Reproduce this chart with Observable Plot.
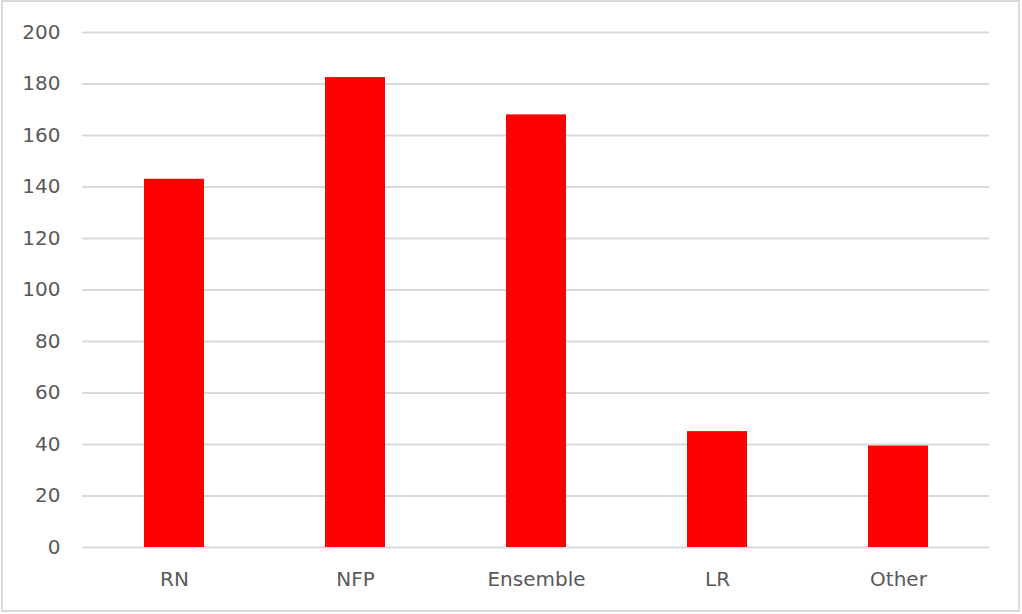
<!DOCTYPE html>
<html>
<head>
<meta charset="utf-8">
<script src="https://cdn.jsdelivr.net/npm/d3@7"></script>
<script src="https://cdn.jsdelivr.net/npm/@observablehq/plot@0.6"></script>
<style>
  html, body { margin: 0; padding: 0; background: #fff; }
  #wrap { position: relative; width: 1022px; height: 614px; }
  #border { position: absolute; left: 1px; top: 0px; width: 1015px; height: 608px; border: 2px solid #d9d9d9; pointer-events: none; }
</style>
</head>
<body>
<div id="wrap"><div id="border"></div></div>
<script>
const categories = ["RN", "NFP", "Ensemble", "LR", "Other"];
const values = [143, 182.5, 168, 45, 39.4];
const yTicks = [0, 20, 40, 60, 80, 100, 120, 140, 160, 180, 200];

const data = categories.map((c, i) => ({category: c, value: values[i]}));

const chart = Plot.plot({
  width: 1022,
  height: 614,
  marginLeft: 82,
  marginRight: 33,
  marginTop: 32,
  marginBottom: 67,
  style: {fontFamily: "'DejaVu Sans', sans-serif", fontSize: "20px", color: "#595959", background: "transparent"},
  x: {domain: categories, paddingInner: 0.67, paddingOuter: 0.335, label: null},
  y: {domain: [0, 200], label: null},
  marks: [
    Plot.gridY(yTicks, {stroke: "#d9d9d9", strokeOpacity: 1, strokeWidth: 1.8}),
    Plot.barY(data, {x: "category", y: "value", fill: "#ff0000"}),
    Plot.axisY(yTicks, {tickSize: 0, tickPadding: 22, fontSize: 20, fill: "#595959", label: null}),
    Plot.axisX({tickSize: 0, tickPadding: 24, fontSize: 20, fill: "#595959", label: null})
  ]
});
document.getElementById("wrap").prepend(chart);
</script>
</body>
</html>
